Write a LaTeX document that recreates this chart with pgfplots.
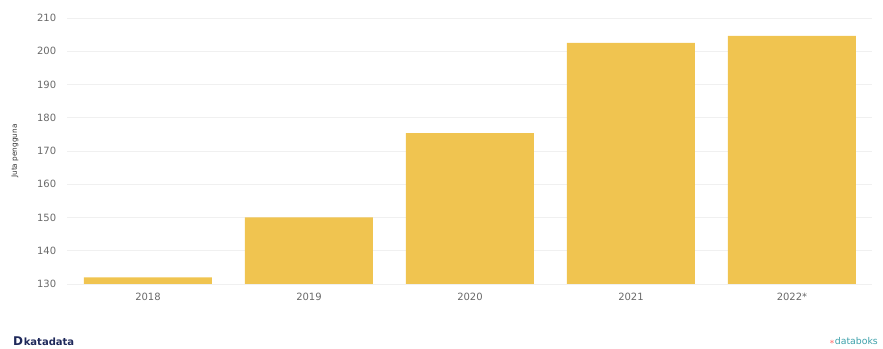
\documentclass[border=0pt]{standalone}
\usepackage{pgfplots}
\pgfplotsset{compat=1.18}
\usepackage{fontspec}
\setmainfont{DejaVu Sans}
\definecolor{bar}{RGB}{240,196,80}
\definecolor{tick}{RGB}{105,105,105}
\definecolor{kd}{RGB}{30,40,90}
\definecolor{db}{RGB}{60,160,170}
\begin{document}
\begin{tikzpicture}[x=0.75pt,y=0.75pt]
\path[use as bounding box] (-67.5,-65) rectangle ++(883,349);
\begin{axis}[
  at={(0,0)}, anchor=south west,
  scale only axis,
  width=603.75pt, height=199.5pt,
  xmin=-0.5, xmax=4.5, ymin=130, ymax=210,
  ybar, bar width=96pt,
  xtick={0,1,2,3,4},
  xticklabels={2018,2019,2020,2021,2022*},
  ytick={130,140,...,210},
  ymajorgrids,
  grid style={draw=gray!12, line width=0.5pt},
  axis line style={draw=none},
  major tick length=0pt,
  tick label style={font=\fontsize{7.5}{9}\selectfont, text=tick},
  /pgf/number format/assume math mode=true,
  yticklabel style={xshift=-5pt},
  xticklabel style={yshift=-3pt},
  clip=false,
]
\addplot[fill=bar, draw=none] coordinates {(0,132.0) (1,150.0) (2,175.4) (3,202.5) (4,204.6)};
\end{axis}
\node[rotate=90, font=\fontsize{5.5}{7}\selectfont, text=black!80] at (-52.5,133) {Juta pengguna};
\node[anchor=west, font=\bfseries\fontsize{7.5}{9}\selectfont, text=kd] at (-59,-57) {\fontsize{9}{9}\selectfont D\kern0.5pt\fontsize{7.5}{9}\selectfont katadata};
\node[anchor=east, font=\fontsize{7}{9}\selectfont, text=db] at (815,-57) {\textcolor{red!70}{$\ast$}databoks};
\end{tikzpicture}
\end{document}
